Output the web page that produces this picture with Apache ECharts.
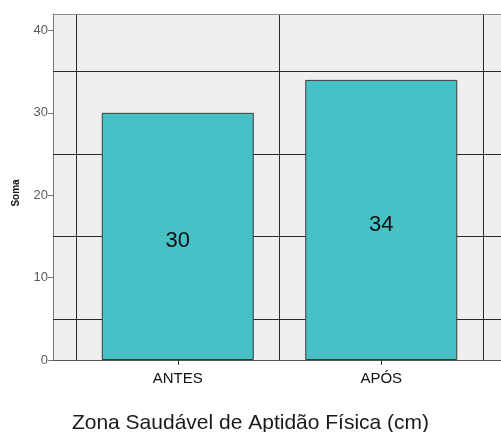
<!DOCTYPE html>
<html><head><meta charset="utf-8">
<script src="https://cdn.jsdelivr.net/npm/echarts@6/dist/echarts.min.js"></script>
<style>html,body{margin:0;padding:0;background:#fff;overflow:hidden}#c{width:501px;height:432px}</style>
</head><body><div id="c"></div>
<script>
const categories = ["ANTES", "APÓS"];
const values = [30, 34];
const yTicks = [0, 10, 20, 30, 40];
const hGridLines = [5, 15, 25, 35];
const yName = "Soma";
const xTitle = "Zona Saudável de Aptidão Física (cm)";

const FONT = "Liberation Sans, Arial, sans-serif";
const chart = echarts.init(document.getElementById('c'), null, {renderer: 'canvas'});
chart.setOption({
  animation: false,
  backgroundColor: '#ffffff',
  title: {
    text: xTitle, left: 'center', top: 408,
    textStyle: {fontFamily: FONT, fontSize: 21, fontWeight: 'normal', color: '#1a1a1a'}
  },
  grid: [
    {left: 53, right: 0, top: 14, bottom: 72, show: true, backgroundColor: '#efefef',
     borderWidth: 0},
    {left: 76, right: 18, top: 14, bottom: 72}
  ],
  xAxis: [
    {gridIndex: 0, type: 'value', min: 0, max: 1,
     axisLine: {show: true, onZero: false, lineStyle: {color: '#555', width: 1}},
     axisTick: {show: false}, axisLabel: {show: false}, splitLine: {show: false}},
    {gridIndex: 1, type: 'category', data: categories,
     axisLine: {show: false},
     axisTick: {show: true, alignWithLabel: true, length: 5, lineStyle: {color: '#333'}},
     axisLabel: {fontFamily: FONT, fontSize: 15, color: '#111', margin: 11},
     splitLine: {show: true, lineStyle: {color: '#2a2a2a', width: 1}}},
    {gridIndex: 0, type: 'value', position: 'top', min: 0, max: 1,
     axisLine: {show: true, onZero: false, lineStyle: {color: '#8a8a8a', width: 1}},
     axisTick: {show: false}, axisLabel: {show: false}, splitLine: {show: false}}
  ],
  yAxis: [
    {gridIndex: 0, type: 'value', min: yTicks[0], max: 42,
     name: yName, nameLocation: 'middle', nameRotate: 90, nameGap: 32,
     nameTextStyle: {fontFamily: FONT, fontSize: 10, fontWeight: 'bold', color: '#111', padding: [0, 0, 0, -12]},
     axisLine: {show: true, lineStyle: {color: '#777'}},
     axisTick: {show: true, length: 5, customValues: yTicks, lineStyle: {color: '#777'}},
     axisLabel: {fontFamily: FONT, fontSize: 13, color: '#5a5a5a', margin: 5, customValues: yTicks},
     splitLine: {show: false}},
    {gridIndex: 1, type: 'value', min: yTicks[0], max: 42, show: false, splitLine: {show: false}}
  ],
  series: [
    {type: 'line', xAxisIndex: 0, yAxisIndex: 0, data: [], z: 1, silent: true,
     markLine: {silent: true, z: 1, symbol: 'none', label: {show: false},
       lineStyle: {color: '#2a2a2a', width: 1, type: 'solid'},
       data: hGridLines.map(v => ({yAxis: v}))}},
    {type: 'bar', xAxisIndex: 1, yAxisIndex: 1, data: values, barWidth: 152, z: 3,
     itemStyle: {color: '#48c1c6', borderColor: '#3a3a3a', borderWidth: 1},
     label: {show: true, position: 'inside', offset: [0, 5], fontFamily: FONT, fontSize: 22, color: '#111'}}
  ]
});
</script></body></html>
